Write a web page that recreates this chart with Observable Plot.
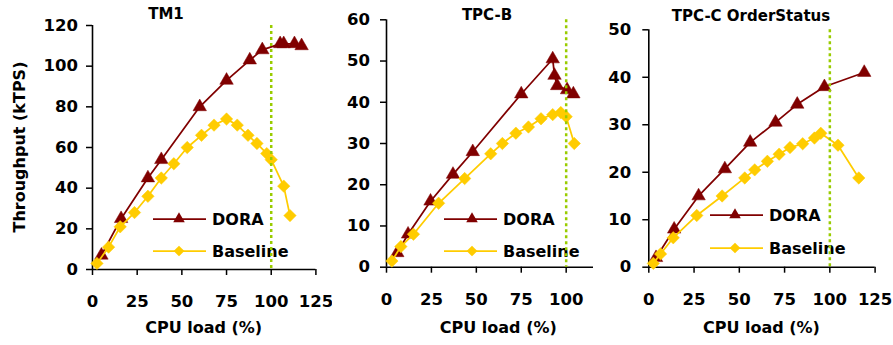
<!DOCTYPE html>
<html>
<head>
<meta charset="utf-8">
<script src="https://cdn.jsdelivr.net/npm/d3@7"></script>
<script src="https://cdn.jsdelivr.net/npm/@observablehq/plot@0.6"></script>
<style>
  html, body { margin: 0; padding: 0; background: #fff; }
  body { width: 893px; height: 345px; position: relative; overflow: hidden;
         font-family: "DejaVu Sans", sans-serif; font-weight: bold; color: #000; }
  .panel { position: absolute; top: 0; }
  .lbl { position: absolute; white-space: nowrap; line-height: 1; font-size: 16px;
         transform: translate(-50%, -50%); }
  .title { font-size: 15px; }
  .ylab { transform: translate(-50%, -50%) rotate(-90deg); }
</style>
</head>
<body>
<script>
// Throughput (kTPS) against CPU load (%) for three workloads, DORA vs. Baseline.

const seriesNames = ["DORA", "Baseline"];
const seriesColors = ["#800000", "#ffcc00"];
const cpuTicks = [0, 25, 50, 75, 100, 125];
const saturationCpu = [100];

// TM1
const tm1DoraCpu = [5, 16, 31, 38.5, 60, 75, 88, 95, 105, 107, 113, 117];
const tm1DoraTps = [7, 25, 45, 54, 80, 93, 103, 108, 111, 111, 111, 110];
const tm1BaseCpu = [2.5, 9, 15.5, 23.5, 31, 38.5, 45.5, 53, 61, 68, 75, 81, 87, 92, 97.5, 100, 107, 110.5];
const tm1BaseTps = [3, 11, 21, 28, 36, 45, 52, 60, 66, 71, 74, 71, 66, 62, 57, 54, 41, 26.5];
const tm1YTicks = [0, 20, 40, 60, 80, 100, 120];

// TPC-B
const tpcbDoraCpu = [6, 12, 24.5, 37, 48, 75, 92.5, 93.5, 95, 100.5, 104];
const tpcbDoraTps = [3.5, 8, 16, 22.5, 28, 42, 50.5, 46.5, 44, 43, 42];
const tpcbBaseCpu = [3, 8, 15, 29, 43.5, 58, 64.5, 72, 79, 86, 92.5, 97, 100, 104.5];
const tpcbBaseTps = [1.5, 5, 8, 15.5, 21.5, 27.5, 30, 32.5, 34, 36, 37, 37.5, 36.5, 30];
const tpcbYTicks = [0, 10, 20, 30, 40, 50, 60];

// TPC-C OrderStatus
const tpccDoraCpu = [4, 14, 27.5, 42, 56, 70, 82, 97, 119];
const tpccDoraTps = [2, 8, 15, 20.7, 26.3, 30.5, 34.3, 38, 41];
const tpccBaseCpu = [2.5, 6.5, 13.5, 26.5, 40.5, 53, 58.5, 65.5, 72, 78, 85, 91.5, 95, 104.5, 116];
const tpccBaseTps = [0.8, 2.8, 6.2, 10.9, 15, 18.8, 20.5, 22.3, 23.8, 25.2, 26, 27.2, 28.2, 25.7, 18.8];
const tpccYTicks = [0, 10, 20, 30, 40, 50];

const rows = (cpu, tps) => cpu.map((c, i) => ({cpu: c, tps: tps[i]}));

const panels = [
  {title: "TM1", dora: rows(tm1DoraCpu, tm1DoraTps), base: rows(tm1BaseCpu, tm1BaseTps),
   yTicks: tm1YTicks, yPad: 8.5, left: 0, width: 330, ml: 92, mr: 14.6, mt: 25, mb: 76,
   titleX: 166, titleY: 14, legend: {x1: 153, x2: 206, mx: 179, tx: 212, y: [219, 251]}},
  {title: "TPC-B", dora: rows(tpcbDoraCpu, tpcbDoraTps), base: rows(tpcbBaseCpu, tpcbBaseTps),
   yTicks: tpcbYTicks, yPad: 10.5, left: 332, width: 300, ml: 54, mr: 21.4, mt: 19.3, mb: 78.3,
   titleX: 487, titleY: 15, legend: {x1: 112, x2: 165, mx: 140, tx: 171, y: [219, 251]}},
  {title: "TPC-C OrderStatus", dora: rows(tpccDoraCpu, tpccDoraTps), base: rows(tpccBaseCpu, tpccBaseTps),
   yTicks: tpccYTicks, yPad: 11.5, left: 593, width: 300, ml: 55.3, mr: 18.4, mt: 29.3, mb: 78.3,
   titleX: 751, titleY: 15.5, legend: {x1: 117, x2: 170, mx: 142, tx: 176, y: [215, 248]}}
];

const H = 345;
const triR = 5, diaR = 5.6;
const tickFont = 16.5;

function addLabel(text, x, y, cls) {
  const d = document.createElement("div");
  d.className = "lbl " + (cls || "");
  d.style.left = x + "px";
  d.style.top = y + "px";
  d.textContent = text;
  document.body.appendChild(d);
}

panels.forEach((p) => {
  const yMax = p.yTicks[p.yTicks.length - 1];
  const svg = Plot.plot({
    width: p.width,
    height: H,
    marginLeft: p.ml,
    marginRight: p.mr,
    marginTop: p.mt,
    marginBottom: p.mb,
    style: {background: "white", fontFamily: "DejaVu Sans, sans-serif", fontWeight: "bold",
            fontSize: tickFont + "px", color: "#000", overflow: "visible"},
    x: {domain: [0, 125]},
    y: {domain: [0, yMax]},
    marks: [
      Plot.axisX({ticks: cpuTicks, tickSize: 6, tickPadding: 20, label: null, fontSize: tickFont,
                  stroke: "#000", strokeWidth: 1.5}),
      Plot.axisY({ticks: p.yTicks, tickSize: 6, tickPadding: p.yPad, label: null, fontSize: tickFont,
                  stroke: "#000", strokeWidth: 1.5}),
      Plot.ruleY([0], {stroke: "#000", strokeWidth: 1.6}),
      Plot.ruleX([0], {stroke: "#000", strokeWidth: 1.6}),
      Plot.line(p.dora, {x: "cpu", y: "tps", stroke: seriesColors[0], strokeWidth: 1.75}),
      Plot.dot(p.dora, {x: "cpu", y: "tps", symbol: "triangle", r: triR, fill: seriesColors[0], stroke: seriesColors[0], strokeWidth: 0.5}),
      Plot.line(p.base, {x: "cpu", y: "tps", stroke: seriesColors[1], strokeWidth: 1.75}),
      Plot.dot(p.base, {x: "cpu", y: "tps", symbol: "diamond2", r: diaR, fill: seriesColors[1], stroke: seriesColors[1], strokeWidth: 0.5}),
      Plot.ruleX(saturationCpu, {stroke: "#99cc00", strokeWidth: 2.5, strokeDasharray: "3,3"})
    ]
  });
  svg.classList.add("panel");
  svg.style.left = p.left + "px";
  document.body.appendChild(svg);

  // In-plot legend, drawn beneath the 100% load marker
  const lg = document.createElementNS("http://www.w3.org/2000/svg", "g");
  svg.insertBefore(lg, svg.lastElementChild);
  const g = d3.select(lg).attr("text-anchor", "start");
  const symbols = [d3.symbolTriangle, d3.symbolDiamond2];
  const radii = [4.3, 4.8];
  seriesNames.forEach((name, i) => {
    const y = p.legend.y[i];
    g.append("line").attr("x1", p.legend.x1).attr("x2", p.legend.x2)
      .attr("y1", y).attr("y2", y).attr("stroke", seriesColors[i]).attr("stroke-width", 1.75);
    g.append("path").attr("d", d3.symbol(symbols[i], Math.PI * radii[i] * radii[i])())
      .attr("transform", `translate(${p.legend.mx},${y})`).attr("fill", seriesColors[i]);
    g.append("text").attr("x", p.legend.tx).attr("y", y).attr("dy", "0.36em")
      .attr("font-size", 16).attr("fill", "#000").text(name);
  });

  addLabel(p.title, p.titleX, p.titleY, "title");
  addLabel("CPU load (%)", p.left + p.ml + (p.width - p.ml - p.mr) / 2, 328);
});

addLabel("Throughput (kTPS)", 19.5, 147, "ylab");
</script>
</body>
</html>
